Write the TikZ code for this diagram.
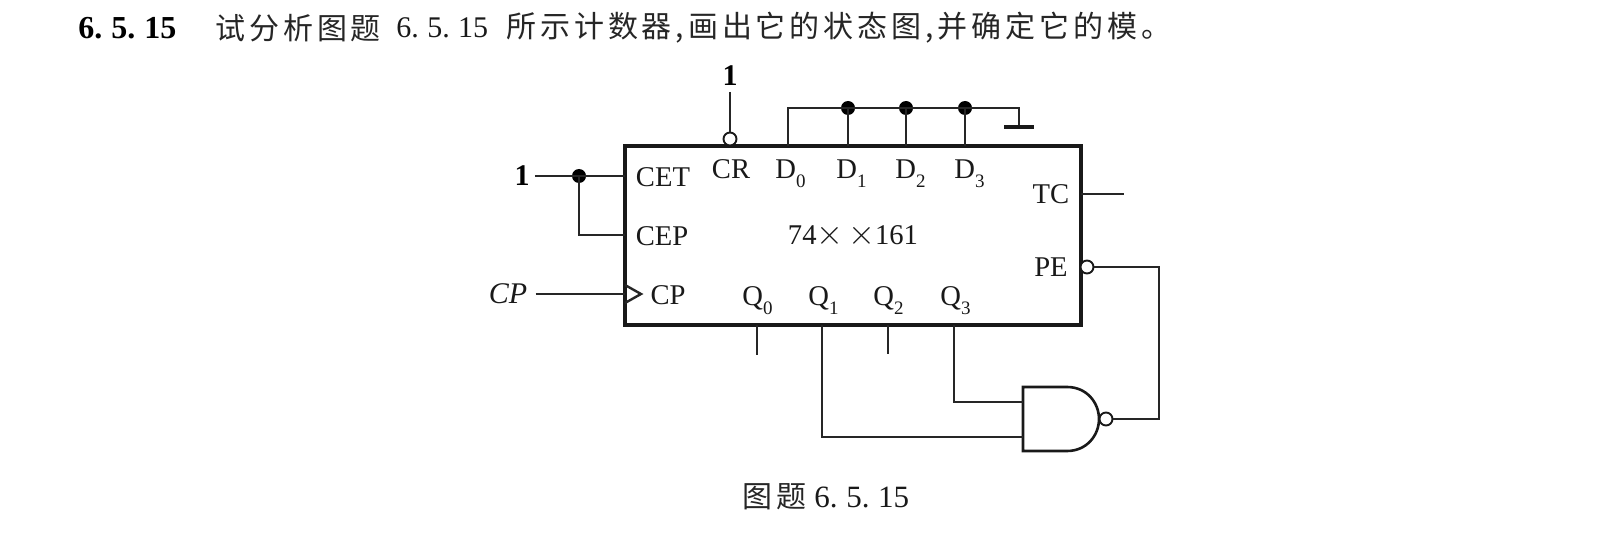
\documentclass[tikz,border=0pt]{standalone}
\usepackage{fontspec}
\setmainfont{Liberation Serif}
\newfontfamily\cjk[LetterSpace=13]{Noto Sans CJK SC}
\newcommand{\sbs}[1]{\raisebox{-0.32em}{\fontsize{9.5}{9.5}\selectfont #1}}
\newcommand{\numtxt}{6.\hspace{0.28em}5.\hspace{0.28em}15}
\tikzset{
  x=0.5pt,y=-0.5pt,
  wire/.style={line width=0.95pt,black!85},
  boxline/.style={line width=1.9pt,black!90},
  pin/.style={inner sep=0pt,font=\fontsize{14.3}{14.3}\selectfont,text=black!90},
  jdot/.style={circle,fill=black,inner sep=0pt,minimum size=7pt},
  bubble/.style={circle,draw=black!90,line width=0.95pt,fill=white,inner sep=0pt,minimum size=6.5pt},
  lone/.style={inner sep=0pt,font=\fontsize{15}{15}\selectfont\bfseries},
  titlecn/.style={inner sep=0pt,font=\fontsize{15}{15}\selectfont\cjk,text=black!85},
  titlenum/.style={inner sep=0pt,font=\fontsize{15.5}{15.5}\selectfont,text=black!90},
}
\begin{document}
\begin{tikzpicture}
\useasboundingbox (0,0) rectangle (1618,551);
% title
\node[lone,anchor=west,font=\fontsize{16}{16}\selectfont\bfseries] (num) at (78,28) {\numtxt};
\node[titlecn,anchor=west] (t1) at (215,28) {试分析图题};
\node[titlenum,anchor=west,font=\fontsize{15}{15}\selectfont] (t2) at (396,28) {\numtxt};
\node[titlecn,anchor=west] (t3) at (506,28) {所示计数器,画出它的状态图,并确定它的模。};
% chip
\draw[boxline] (625,146) rectangle (1081,325);
\coordinate (cetp) at (625,176);
\coordinate (cepp) at (625,235);
\coordinate (cpp) at (625,294);
\node[pin] (cet) at (663,177) {CET};
\node[pin] (cep) at (662,236) {CEP};
\node[pin] (cpl) at (668,295) {CP};
\node[pin] (cr) at (731,169) {CR};
\node[pin,anchor=base west] (d0) at (775,178) {D\sbs{0}};
\node[pin,anchor=base west] (d1) at (836,178) {D\sbs{1}};
\node[pin,anchor=base west] (d2) at (895,178) {D\sbs{2}};
\node[pin,anchor=base west] (d3) at (954,178) {D\sbs{3}};
\node[pin] (tc) at (1051,194) {TC};
\node[pin] (pe) at (1051,267) {PE};
\node[pin] (name) at (853,236) {74{\fontsize{19}{19}\selectfont$\times$}\,{\fontsize{19}{19}\selectfont$\times$}161};
\node[pin,anchor=base west] (q0) at (742,305) {Q\sbs{0}};
\node[pin,anchor=base west] (q1) at (808,305) {Q\sbs{1}};
\node[pin,anchor=base west] (q2) at (873,305) {Q\sbs{2}};
\node[pin,anchor=base west] (q3) at (940,305) {Q\sbs{3}};
% clock triangle
\draw[wire,line width=1.2pt] (625,285) -- (641,294) -- (625,303);
% left inputs
\node[lone] (one1) at (522,176) {1};
\node[pin,font=\fontsize{15}{15}\selectfont\itshape] (cpin) at (508,294) {CP};
\node[jdot] (j0) at (579,176) {};
\draw[wire] (one1.east) ++(5,0) -- (cetp);
\draw[wire] (j0.center) |- (cepp);
\draw[wire] (cpin.east) ++(8,0) -- (cpp);
% CR
\node[lone] (one2) at (730,76) {1};
\node[bubble] (crb) at (730,139) {};
\coordinate (one2b) at (730,92);
\draw[wire] (one2b) -- (crb.north);
% D bus
\coordinate (d0p) at (788,146);
\coordinate (d1p) at (848,146);
\coordinate (d2p) at (906,146);
\coordinate (d3p) at (965,146);
\node[jdot] (j1) at (848,108) {};
\node[jdot] (j2) at (906,108) {};
\node[jdot] (j3) at (965,108) {};
\coordinate (gnd) at (1019,127);
\draw[wire] (d0p) |- (j1.center) -- (j2.center) -- (j3.center) -| (gnd);
\draw[wire] (j1.center) -- (d1p);
\draw[wire] (j2.center) -- (d2p);
\draw[wire] (j3.center) -- (d3p);
\coordinate (gl) at (1004,127);
\coordinate (gr) at (1034,127);
\draw[line width=1.7pt,black!90] (gl) -- (gr);
% right outputs
\coordinate (tcp) at (1081,194);
\coordinate (tce) at (1124,194);
\draw[wire] (tcp) -- (tce);
\node[bubble] (peb) at (1087,267) {};
% Q stubs
\coordinate (q0p) at (757,325);
\coordinate (q0e) at (757,355);
\coordinate (q2p) at (888,325);
\coordinate (q2e) at (888,354);
\draw[wire] (q0p) -- (q0e);
\draw[wire] (q2p) -- (q2e);
% NAND
\draw[line width=1.3pt,black!90] (1023,387) -- (1067,387)
  .. controls (1087,387) and (1099,403) .. (1099,419)
  .. controls (1099,435) and (1087,451) .. (1067,451) -- (1023,451) -- cycle;
\node[bubble] (nb) at (1106,419) {};
\coordinate (na) at (1023,402);
\coordinate (nc) at (1023,437);
\coordinate (q1p) at (822,325);
\coordinate (q3p) at (954,325);
\draw[wire] (q3p) |- (na);
\draw[wire] (q1p) |- (nc);
\coordinate (fb) at (1159,267);
\draw[wire] (nb.east) -| (fb) -- (peb.east);
% caption
\node[titlecn,anchor=west] (cap1) at (742,497) {图题};
\node[titlenum,anchor=west] (cap2) at (814,497) {\numtxt};
\end{tikzpicture}
\end{document}
